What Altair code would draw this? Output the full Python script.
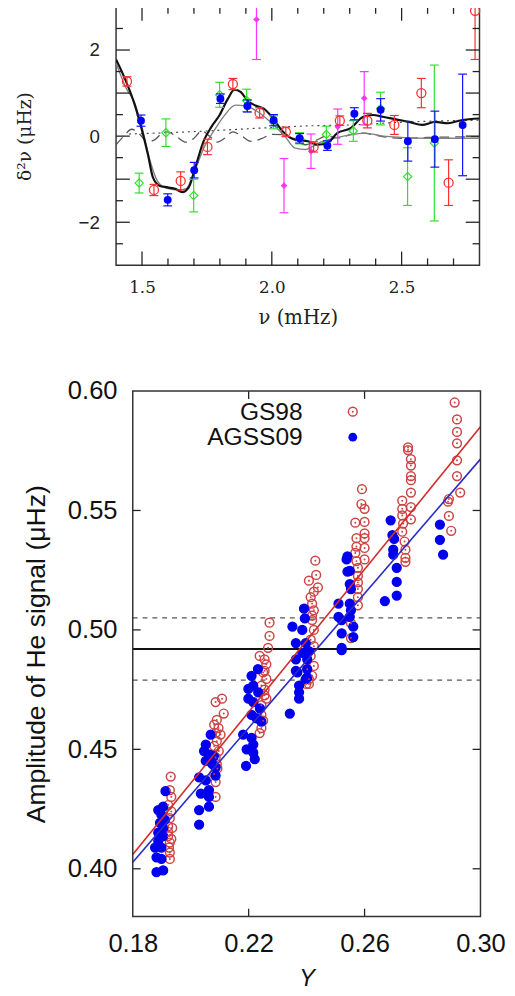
import altair as alt
import pandas as pd

SANS = "Liberation Sans"
SERIF = "DejaVu Serif"

# ---------------- TOP PANEL: second differences ----------------
red_nu = [1.442, 1.546, 1.649, 1.752, 1.850, 1.953, 2.054, 2.161, 2.262, 2.368, 2.472, 2.576, 2.681, 2.783]
red_d2 = [1.27, -1.25, -1.04, -0.25, 1.21, 0.54, 0.10, -0.25, 0.36, 0.36, 0.26, 1.00, -1.08, 2.91]
red_err = [0.11, 0.13, 0.21, 0.18, 0.13, 0.12, 0.11, 0.12, 0.11, 0.17, 0.22, 0.34, 0.53, 1.13]

blue_nu = [1.496, 1.599, 1.701, 1.802, 1.906, 2.007, 2.107, 2.214, 2.318, 2.419, 2.524, 2.628, 2.735]
blue_d2 = [0.36, -1.48, -0.79, 0.87, 0.70, 0.37, -0.05, -0.22, 0.52, 0.61, -0.12, -0.07, 0.26]
blue_err = [0.13, 0.14, 0.18, 0.11, 0.14, 0.13, 0.11, 0.11, 0.14, 0.26, 0.46, 0.65, 1.18]

green_nu = [1.489, 1.592, 1.699, 1.799, 1.903, 2.007, 2.107, 2.210, 2.314, 2.419, 2.523, 2.626]
green_d2 = [-1.09, 0.08, -1.38, 0.96, 0.83, 0.32, -0.05, 0.04, 0.12, 0.64, -0.94, -0.16]
green_err = [0.23, 0.32, 0.38, 0.29, 0.26, 0.15, 0.13, 0.19, 0.24, 0.38, 0.67, 1.81]

mag_nu = [1.941, 2.047, 2.151, 2.254, 2.356]
mag_d2 = [2.71, -1.15, -0.35, 0.22, 0.88]
mag_err = [0.93, 0.63, 0.40, 0.41, 0.62]

fit_nu = [1.40, 1.435, 1.473, 1.498, 1.523, 1.542, 1.567, 1.598, 1.630, 1.655, 1.680, 1.705,
          1.737, 1.768, 1.799, 1.831, 1.856, 1.881, 1.906, 1.937, 1.969, 2.000, 2.038, 2.075,
          2.100, 2.139, 2.177, 2.214, 2.252, 2.302, 2.353, 2.390, 2.428, 2.478, 2.529, 2.579,
          2.629, 2.679, 2.730, 2.800]
fit_d2 = [1.78, 1.32, 0.71, 0.18, -0.43, -0.96, -1.15, -1.19, -1.23, -1.30, -1.19, -0.73,
          -0.12, 0.22, 0.49, 0.87, 1.08, 1.02, 0.83, 0.71, 0.64, 0.45, 0.14, -0.05,
          -0.085, -0.12, -0.20, -0.16, 0.07, 0.18, 0.45, 0.49, 0.45, 0.39, 0.33, 0.26,
          0.33, 0.30, 0.37, 0.41]

alt_nu = [1.40, 1.44, 1.47, 1.50, 1.53, 1.56, 1.60, 1.64, 1.67, 1.70, 1.74, 1.78, 1.82, 1.86,
          1.90, 1.95, 2.00, 2.05, 2.09, 2.13, 2.18, 2.24, 2.30, 2.36, 2.43, 2.50, 2.60, 2.70, 2.80]
alt_d2 = [1.70, 1.10, 0.80, 0.20, -0.55, -1.05, -1.22, -1.25, -1.22, -0.85, -0.25, 0.15, 0.50, 0.72,
          0.70, 0.55, 0.30, 0.00, -0.28, -0.31, -0.16, -0.05, 0.03, 0.07, 0.00, -0.03, -0.05, -0.05, -0.05]

osc_nu = [1.40, 1.43, 1.46, 1.49, 1.52, 1.55, 1.58, 1.60, 1.63, 1.67, 1.70, 1.73, 1.76, 1.79,
          1.82, 1.85, 1.88, 1.92, 1.96, 2.00, 2.05, 2.09, 2.13, 2.17, 2.21, 2.26, 2.30, 2.35,
          2.40, 2.45, 2.50, 2.60, 2.70, 2.80]
osc_d2 = [-0.20, 0.00, 0.16, 0.05, -0.13, -0.08, 0.08, 0.10, 0.00, -0.14, -0.05, 0.12, 0.00, -0.14,
          -0.04, 0.10, 0.02, -0.12, -0.06, 0.04, 0.03, -0.10, -0.20, -0.10, 0.00, -0.04, 0.03, 0.07,
          0.02, -0.03, -0.05, -0.03, -0.02, -0.01]

smooth_nu = [1.45, 1.60, 1.75, 2.00, 2.15, 2.30, 2.525, 2.80]
smooth_d2 = [0.05, 0.08, 0.12, 0.20, 0.24, 0.26, 0.33, 0.37]

# ---------------- BOTTOM PANEL: He-signal amplitude vs Y ----------------
model_names = ["GS98", "AGSS09"]
gs98_Y = [0.1931, 0.1928, 0.1933, 0.1922, 0.1933, 0.1928, 0.1936, 0.1922, 0.1922, 0.1928, 0.1925, 0.1928, 0.1928, 0.1922, 0.1933,
          0.2086, 0.2108, 0.2114, 0.2090, 0.2081, 0.2096, 0.2086, 0.2103, 0.2090, 0.2081, 0.2097, 0.2086, 0.2090, 0.2081, 0.2086, 0.2086, 0.2092,
          0.2272, 0.2272, 0.2267, 0.2238, 0.2255, 0.2261, 0.2255, 0.2261, 0.2250, 0.2244, 0.2255, 0.2244, 0.2261, 0.2244, 0.2244, 0.2238, 0.2250, 0.2255,
          0.2430, 0.2433, 0.2439, 0.2408, 0.2414, 0.2419, 0.2425, 0.2419, 0.2425, 0.2414, 0.2425, 0.2414, 0.2425, 0.2419, 0.2408, 0.2402, 0.2408, 0.2399, 0.2425, 0.2419,
          0.2591, 0.2589, 0.2600, 0.2568, 0.2600, 0.2600, 0.2572, 0.2600, 0.2572, 0.2600, 0.2568, 0.2600, 0.2572, 0.2577, 0.2577, 0.2577, 0.2577, 0.2577, 0.2577, 0.2553, 0.2553,
          0.2750, 0.2750, 0.2760, 0.2760, 0.2760, 0.2760, 0.2760, 0.2730, 0.2730, 0.2760, 0.2730, 0.2760, 0.2733, 0.2730, 0.2738, 0.2741, 0.2741, 0.2741,
          0.2911, 0.2919, 0.2919, 0.2919, 0.2919, 0.2919, 0.2930, 0.2891, 0.2888, 0.2891, 0.2899]
gs98_A = [0.4386, 0.4329, 0.4301, 0.4267, 0.4240, 0.4212, 0.4171, 0.4178, 0.4137, 0.4110, 0.4089, 0.4068, 0.4041, 0.4155, 0.4125,
          0.4698, 0.4712, 0.4650, 0.4623, 0.4603, 0.4589, 0.4568, 0.4562, 0.4534, 0.4514, 0.4493, 0.4466, 0.4438, 0.4397, 0.4363, 0.4301, 0.4420,
          0.5030, 0.4975, 0.4925, 0.4891, 0.4877, 0.4856, 0.4829, 0.4795, 0.4822, 0.4767, 0.4726, 0.4685, 0.4712, 0.4644, 0.4589, 0.4568, 0.4620, 0.4750,
          0.5290, 0.5230, 0.5178, 0.5206, 0.5137, 0.5110, 0.5082, 0.5041, 0.5000, 0.4959, 0.4932, 0.4891, 0.4849, 0.4808, 0.4774, 0.4835, 0.4794, 0.4774, 0.5160, 0.5060,
          0.5589, 0.5527, 0.5507, 0.5449, 0.5452, 0.5404, 0.5384, 0.5384, 0.5349, 0.5343, 0.5322, 0.5295, 0.5288, 0.5260, 0.5226, 0.5199, 0.5171, 0.5137, 0.5103, 0.5028, 0.4966,
          0.5764, 0.5753, 0.5715, 0.5688, 0.5644, 0.5627, 0.5575, 0.5541, 0.5507, 0.5514, 0.5479, 0.5463, 0.5445, 0.5411, 0.5370, 0.5336, 0.5302, 0.5285,
          0.5952, 0.5881, 0.5829, 0.5781, 0.5710, 0.5644, 0.5575, 0.5548, 0.5537, 0.5477, 0.5415]

agss09_Y = [0.1913, 0.1888, 0.1905, 0.1899, 0.1911, 0.1894, 0.1905, 0.1888, 0.1905, 0.1888, 0.1899, 0.1877, 0.1882, 0.1899, 0.1905, 0.1882,
            0.2069, 0.2052, 0.2046, 0.2063, 0.2080, 0.2052, 0.2075, 0.2086, 0.2029, 0.2052, 0.2086, 0.2035, 0.2063, 0.2063, 0.2029, 0.2063, 0.2029,
            0.2210, 0.2199, 0.2216, 0.2233, 0.2199, 0.2216, 0.2239, 0.2210, 0.2227, 0.2244, 0.2181, 0.2210, 0.2216, 0.2193, 0.2216, 0.2221, 0.2191, 0.2232,
            0.2351, 0.2391, 0.2394, 0.2385, 0.2363, 0.2397, 0.2385, 0.2408, 0.2363, 0.2402, 0.2363, 0.2402, 0.2402, 0.2368, 0.2397, 0.2374, 0.2374, 0.2374, 0.2342,
            0.2541, 0.2538, 0.2541, 0.2549, 0.2549, 0.2553, 0.2510, 0.2549, 0.2553, 0.2510, 0.2549, 0.2521, 0.2561, 0.2521, 0.2561, 0.2521, 0.2521,
            0.2690, 0.2696, 0.2702, 0.2699, 0.2699, 0.2711, 0.2711, 0.2711, 0.2670,
            0.2860, 0.2860, 0.2871]
agss09_A = [0.4325, 0.4246, 0.4260, 0.4226, 0.4205, 0.4192, 0.4171, 0.4151, 0.4137, 0.4116, 0.4089, 0.4089, 0.4048, 0.4041, 0.3993, 0.3986,
            0.4562, 0.4520, 0.4493, 0.4479, 0.4472, 0.4452, 0.4438, 0.4424, 0.4383, 0.4370, 0.4390, 0.4315, 0.4329, 0.4301, 0.4246, 0.4260, 0.4185,
            0.4808, 0.4753, 0.4767, 0.4739, 0.4712, 0.4698, 0.4671, 0.4644, 0.4630, 0.4616, 0.4562, 0.4548, 0.4520, 0.4500, 0.4486, 0.4459, 0.4431, 0.4836,
            0.5014, 0.5089, 0.5048, 0.5000, 0.4945, 0.4945, 0.4904, 0.4911, 0.4877, 0.4877, 0.4829, 0.4836, 0.4801, 0.4822, 0.4794, 0.4767, 0.4739, 0.4712, 0.4650,
            0.5308, 0.5295, 0.5244, 0.5247, 0.5192, 0.5171, 0.5110, 0.5110, 0.5082, 0.5055, 0.5055, 0.5041, 0.5014, 0.4986, 0.4970, 0.4925, 0.4915,
            0.5459, 0.5397, 0.5381, 0.5336, 0.5315, 0.5260, 0.5201, 0.5144, 0.5121,
            0.5441, 0.5377, 0.5315]

fit_Y = [0.18, 0.30]
gs98_fit_A = [0.406, 0.585]
agss09_fit_A = [0.4027, 0.5715]
obs_A = [0.492]
obs_band_A = [0.479, 0.505]

# ---------------- geometry / scales ----------------
T_W, T_H = 370, 263               # top plot
B_GUT, B_W, B_H = 17, 354, 535    # bottom plot: left gutter + framed width
T_X = [1.4, 2.8]
T_Y = [-3.0, 3.0]
B_X = [0.18, 0.30]
B_Y = [0.38, 0.60]
B_X0 = B_X[0] - B_GUT * (B_X[1] - B_X[0]) / B_W

XT = alt.Scale(domain=T_X, nice=False, zero=False)
YT = alt.Scale(domain=T_Y, nice=False, zero=False)
XB = alt.Scale(domain=[B_X0, B_X[1]], nice=False, zero=False)
YB = alt.Scale(domain=B_Y, nice=False, zero=False)

TICK_C = "#222"


def tick_marks(values, side, length, xs, ys, xdom, ydom, w, h):
    """Inward axis ticks drawn as tick marks centred half a tick-length inside the frame."""
    hy = 0.5 * length * (ydom[1] - ydom[0]) / h
    hx = 0.5 * length * (xdom[1] - xdom[0]) / w
    n = len(values)
    if side in ("bottom", "top"):
        c = ydom[0] + hy if side == "bottom" else ydom[1] - hy
        df = pd.DataFrame({"tv": values, "tc": [c] * n})
        return alt.Chart(df).mark_tick(orient="vertical", size=length, thickness=1.3,
                                       color=TICK_C, opacity=1).encode(
            x=alt.X("tv:Q", scale=xs, axis=None), y=alt.Y("tc:Q", scale=ys, axis=None))
    c = xdom[0] + hx if side == "left" else xdom[1] - hx
    df = pd.DataFrame({"tv": values, "tc": [c] * n})
    return alt.Chart(df).mark_tick(orient="horizontal", size=length, thickness=1.3,
                                   color=TICK_C, opacity=1).encode(
        x=alt.X("tc:Q", scale=xs, axis=None), y=alt.Y("tv:Q", scale=ys, axis=None))


def label_axis(orient, values, **kw):
    opts = dict(orient=orient, values=values, ticks=False, tickSize=0, domain=False, grid=False,
                labelFlush=False, labelOverlap=False)
    opts.update(kw)
    return alt.Axis(**opts)


# ---------------- top panel ----------------
tx_major = [1.5, 2.0, 2.5]
tx_minor = [1.6, 1.7, 1.8, 1.9, 2.1, 2.2, 2.3, 2.4, 2.6, 2.7]
ty_major = [-2, -1, 0, 1, 2]
ty_minor = [-2.5, -1.5, -0.5, 0.5, 1.5, 2.5]

ax_t_bottom = label_axis("bottom", tx_major, format=".1f", labelPadding=15,
                         labelFont=SERIF, labelFontSize=17, labelColor="#222",
                         title="ν  (mHz)", titleFont=SERIF, titleFontSize=20,
                         titleFontWeight="normal", titleColor="#222", titlePadding=12)
ax_t_left = label_axis("left", ty_major, format="d",
                       labelExpr="datum.value % 2 == 0 ? datum.label : ''",
                       labelPadding=17, labelFont=SANS, labelFontSize=19, labelColor="#222",
                       minExtent=39, maxExtent=39,
                       title="δ²ν  (μHz)", titleFont=SERIF, titleFontSize=19,
                       titleFontWeight="normal", titleColor="#222", titlePadding=44)


def line_layer(nu, d2, **mk):
    df = pd.DataFrame({"nu": nu, "d2": d2})
    return alt.Chart(df).mark_line(interpolate="monotone", clip=True, **mk).encode(
        x=alt.X("nu:Q", scale=XT, axis=None),
        y=alt.Y("d2:Q", scale=YT, axis=None))


def series_layers(nu, d2, err, color, point_mark, xaxis=None, yaxis=None):
    lo = [max(a - b, T_Y[0]) for a, b in zip(d2, err)]
    hi = [min(a + b, T_Y[1]) for a, b in zip(d2, err)]
    df = pd.DataFrame({"nu": nu, "d2": d2, "lo": lo, "hi": hi})
    base = alt.Chart(df)
    bars = base.mark_rule(color=color, strokeWidth=1.2).encode(
        x=alt.X("nu:Q", scale=XT, axis=None),
        y=alt.Y("lo:Q", scale=YT, axis=None), y2="hi:Q")
    caps = base.transform_fold(["lo", "hi"], as_=["end", "v"]).transform_filter(
        (alt.datum.v < T_Y[1]) & (alt.datum.v > T_Y[0])
    ).mark_tick(orient="horizontal", size=9, thickness=1.2, color=color, opacity=1).encode(
        x=alt.X("nu:Q", scale=XT, axis=None),
        y=alt.Y("v:Q", scale=YT, axis=None))
    pts = base.mark_point(opacity=1, **point_mark).encode(
        x=alt.X("nu:Q", scale=XT, axis=xaxis),
        y=alt.Y("d2:Q", scale=YT, axis=yaxis))
    return [bars, caps, pts]


top_layers = [
    line_layer(smooth_nu, smooth_d2, color="#444", strokeWidth=1.2, strokeDash=[2, 4]),
    line_layer(osc_nu, osc_d2, color="#555", strokeWidth=1.3, strokeDash=[10, 6]),
    line_layer(alt_nu, alt_d2, color="#808080", strokeWidth=1.4),
    line_layer(fit_nu, fit_d2, color="#111", strokeWidth=2.2),
]
top_layers += series_layers(green_nu, green_d2, green_err, "#2ee02e",
                            dict(shape="diamond", size=70, filled=False, strokeWidth=1.2, color="#2ee02e"))
top_layers += series_layers(mag_nu, mag_d2, mag_err, "#ff33ff",
                            dict(shape="diamond", size=45, filled=True, color="#ff33ff"))
top_layers += series_layers(red_nu, red_d2, red_err, "#ff2e2e",
                            dict(shape="circle", size=85, filled=False, strokeWidth=1.3, color="#ff2e2e"),
                            ax_t_bottom, ax_t_left)
top_layers += series_layers(blue_nu, blue_d2, blue_err, "#1010ff",
                            dict(shape="circle", size=65, filled=True, color="#0000ff"))
T_ARGS = (XT, YT, T_X, T_Y, T_W, T_H)
top_layers += [
    tick_marks(tx_major, "bottom", 14, *T_ARGS),
    tick_marks(tx_minor, "bottom", 7, *T_ARGS),
    tick_marks(tx_major, "top", 14, *T_ARGS),
    tick_marks(tx_minor, "top", 7, *T_ARGS),
    tick_marks(ty_major, "left", 14, *T_ARGS),
    tick_marks(ty_minor, "left", 7, *T_ARGS),
    tick_marks(ty_major, "right", 14, *T_ARGS),
    tick_marks(ty_minor, "right", 7, *T_ARGS),
]

top = alt.layer(*top_layers).resolve_axis(x="independent", y="independent").properties(
    width=T_W, height=T_H)

# ---------------- bottom panel ----------------
bx_vals = [0.18, 0.22, 0.26, 0.30]
by_vals = [0.40, 0.45, 0.50, 0.55, 0.60]
ax_b_bottom = label_axis("bottom", bx_vals, format=".2f", labelPadding=15,
                         labelFont=SANS, labelFontSize=26, labelColor="#111",
                         title="Y", titleFont=SANS, titleFontSize=24, titleFontStyle="italic",
                         titleFontWeight="normal", titleColor="#111", titlePadding=10,
                         titleX=B_GUT + B_W / 2)
ax_b_left = label_axis("left", by_vals, format=".2f", labelPadding=16, offset=-B_GUT,
                       labelFont=SANS, labelFontSize=26, labelColor="#111",
                       minExtent=66, maxExtent=66,
                       title="Amplitude of He signal (μHz)", titleFont=SANS, titleFontSize=27,
                       titleFontWeight="normal", titleColor="#111", titlePadding=18)

GS_RED = "#cc4444"
AG_BLUE = "#0000ee"

scatter_df = pd.DataFrame({
    "Y": gs98_Y + agss09_Y,
    "A": gs98_A + agss09_A,
    "model": [model_names[0]] * len(gs98_Y) + [model_names[1]] * len(agss09_Y),
})
gs_df = pd.DataFrame({"Y": gs98_Y, "A": gs98_A})

obs_rule = alt.Chart(pd.DataFrame({"A": obs_A, "x0": [B_X[0]], "x1": [B_X[1]]})).mark_rule(
    color="#111", strokeWidth=2).encode(
    x=alt.X("x0:Q", scale=XB, axis=None), x2="x1:Q", y=alt.Y("A:Q", scale=YB, axis=None))
band_rule = alt.Chart(pd.DataFrame({"A": obs_band_A, "x0": [B_X[0]] * 2, "x1": [B_X[1]] * 2})).mark_rule(
    color="#555", strokeWidth=1.3, strokeDash=[5, 5]).encode(
    x=alt.X("x0:Q", scale=XB, axis=None), x2="x1:Q", y=alt.Y("A:Q", scale=YB, axis=None))

scatter = alt.Chart(scatter_df).mark_point(shape="circle", size=80, strokeWidth=1.5, opacity=1,
                                          filled=False).encode(
    x=alt.X("Y:Q", scale=XB, axis=ax_b_bottom),
    y=alt.Y("A:Q", scale=YB, axis=ax_b_left),
    stroke=alt.Stroke("model:N", scale=alt.Scale(domain=model_names, range=[GS_RED, AG_BLUE]),
                      legend=None),
    fill=alt.Fill("model:N", scale=alt.Scale(domain=model_names, range=["transparent", AG_BLUE]),
                  legend=None),
)
dots = alt.Chart(gs_df).mark_circle(size=4, color=GS_RED, opacity=1).encode(
    x=alt.X("Y:Q", scale=XB, axis=None), y=alt.Y("A:Q", scale=YB, axis=None))

fit_df = pd.DataFrame({"Y": fit_Y + fit_Y, "A": gs98_fit_A + agss09_fit_A,
                       "model": [model_names[0]] * 2 + [model_names[1]] * 2})
gs_line = alt.Chart(fit_df).transform_filter(alt.datum.model == model_names[0]).mark_line(
    color="#d42a2a", strokeWidth=1.6).encode(
    x=alt.X("Y:Q", scale=XB, axis=None), y=alt.Y("A:Q", scale=YB, axis=None))
ag_line = alt.Chart(fit_df).transform_filter(alt.datum.model == model_names[1]).mark_line(
    color="#2a2acc", strokeWidth=1.6).encode(
    x=alt.X("Y:Q", scale=XB, axis=None), y=alt.Y("A:Q", scale=YB, axis=None))

frame = alt.Chart(pd.DataFrame({"x0": [B_X[0]], "x1": [B_X[1]], "y0": [B_Y[0]], "y1": [B_Y[1]]})).mark_rect(
    fillOpacity=0, stroke="#333", strokeWidth=1.5).encode(
    x=alt.X("x0:Q", scale=XB, axis=None), x2="x1:Q",
    y=alt.Y("y0:Q", scale=YB, axis=None), y2="y1:Q")

# legend (annotation in the upper part of the panel)
leg_gs = pd.DataFrame({"label": [model_names[0]]})
leg_ag = pd.DataFrame({"label": [model_names[1]]})
LEG_TX, LEG_SX, LEG_Y1, LEG_Y2 = 190, 241, 21, 47
leg_layers = [
    alt.Chart(leg_gs).mark_text(align="right", baseline="middle", font=SANS, fontSize=25,
                                color="#111").encode(
        x=alt.value(LEG_TX), y=alt.value(LEG_Y1), text="label:N"),
    alt.Chart(leg_ag).mark_text(align="right", baseline="middle", font=SANS, fontSize=25,
                                color="#111").encode(
        x=alt.value(LEG_TX), y=alt.value(LEG_Y2), text="label:N"),
    alt.Chart(leg_gs).mark_point(shape="circle", size=80, strokeWidth=1.5, color=GS_RED,
                                 filled=False, opacity=1).encode(
        x=alt.value(LEG_SX), y=alt.value(LEG_Y1)),
    alt.Chart(leg_gs).mark_circle(size=4, color=GS_RED, opacity=1).encode(
        x=alt.value(LEG_SX), y=alt.value(LEG_Y1)),
    alt.Chart(leg_ag).mark_circle(size=80, color=AG_BLUE, opacity=1).encode(
        x=alt.value(LEG_SX), y=alt.value(LEG_Y2)),
]

B_ARGS = (XB, YB, B_X, B_Y, B_W, B_H)
bottom_ticks = [
    tick_marks([0.22, 0.26], "bottom", 8, *B_ARGS),
    tick_marks([0.22, 0.26], "top", 8, *B_ARGS),
    tick_marks([0.40, 0.45, 0.50, 0.55], "left", 8, *B_ARGS),
    tick_marks([0.40, 0.45, 0.50, 0.55], "right", 8, *B_ARGS),
]

bottom = alt.layer(band_rule, obs_rule, scatter, dots, gs_line, ag_line, *bottom_ticks, frame,
                   *leg_layers).resolve_axis(x="independent", y="independent").properties(
    width=B_GUT + B_W, height=B_H, view=alt.ViewBackground(stroke="transparent"))

chart = alt.vconcat(top, bottom, spacing=50).properties(
    padding={"left": 7, "top": -15, "right": 0, "bottom": 0}
).configure_view(stroke="#333", strokeWidth=1.5)

chart.save("out.html", embed_options={"renderer": "svg", "actions": False})
